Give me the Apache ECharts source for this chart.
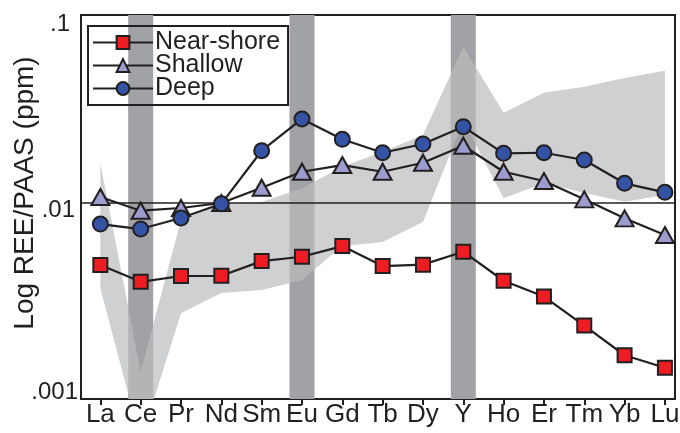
<!DOCTYPE html>
<html>
<head>
<meta charset="utf-8">
<script src="https://cdn.jsdelivr.net/npm/echarts@6/dist/echarts.min.js"></script>
<style>html,body{margin:0;padding:0;background:#fff}#c{width:680px;height:433px}</style>
</head>
<body>
<div id="c"></div>
<script>
const categories = ['La','Ce','Pr','Nd','Sm','Eu','Gd','Tb','Dy','Y','Ho','Er','Tm','Yb','Lu'];
const nearShore = [0.00468,0.00381,0.00409,0.00410,0.00491,0.00518,0.00590,0.00462,0.00470,0.00551,0.00386,0.00318,0.00223,0.00155,0.00133];
const shallow   = [0.01076,0.00910,0.00941,0.01000,0.01206,0.01467,0.01592,0.01467,0.01638,0.02017,0.01467,0.01309,0.01046,0.00829,0.00676];
const deep      = [0.00773,0.00727,0.00832,0.00990,0.01897,0.02799,0.02182,0.01851,0.02059,0.02546,0.01838,0.01851,0.01694,0.01273,0.01140];
const bandUpper = [0.01627,0.001267,0.00812,0.00988,0.01012,0.01197,0.01560,0.01874,0.02299,0.06783,0.03022,0.03861,0.04155,0.04623,0.05055];
const bandLower = [0.00352,0.000542,0.00259,0.00332,0.00345,0.00390,0.00590,0.00620,0.00793,0.02730,0.01059,0.01278,0.01130,0.01016,0.01103];
const anomalies = ['Ce','Eu','Y'];
const yTickValues = [0.001, 0.01, 0.1];
const yTickLabels = ['.001', '.01', '.1'];
const refLevel = 0.01;

const INK = '#231f20';
const FONT = 'Liberation Sans, Arial, Helvetica, sans-serif';
const pairs = arr => arr.map((v, i) => [i, v]);

const chart = echarts.init(document.getElementById('c'), null, {renderer: 'canvas'});
chart.setOption({
  animation: false,
  backgroundColor: '#fff',
  textStyle: {fontFamily: FONT},
  grid: {left: 81, right: 5, top: 15, bottom: 34, show: true, borderColor: INK, borderWidth: 2,
    backgroundColor: 'transparent', containLabel: false, outerBoundsMode: 'none'},
  legend: {
    orient: 'vertical', left: 88, top: 26,
    borderColor: INK, borderWidth: 2, padding: [4, 8, 4, 4],
    itemWidth: 60, itemHeight: 16, itemGap: -2,
    data: ['Near-shore', 'Shallow', 'Deep'],
    textStyle: {fontSize: 25, color: INK, fontFamily: FONT, padding: [0, 0, 0, -3]}
  },
  xAxis: {
    type: 'value', min: -0.48, max: 14.25,
    axisLine: {show: false},
    splitLine: {show: false},
    axisTick: {show: true, inside: false, length: 6, lineStyle: {color: INK, width: 2}, customValues: categories.map((c, i) => i)},
    axisLabel: {show: true, margin: 3, fontSize: 26, color: INK, fontFamily: FONT,
      customValues: categories.map((c, i) => i),
      formatter: v => categories[Math.round(v)] || ''}
  },
  yAxis: {
    type: 'log', min: 0.000907, max: 0.1,
    axisLine: {show: false}, axisTick: {show: false}, splitLine: {show: false},
    axisLabel: {show: true, margin: 3, fontSize: 24, color: INK, fontFamily: FONT,
      customValues: yTickValues,
      formatter: v => {
        const k = yTickValues.findIndex(t => Math.abs(Math.log10(t) - Math.log10(v)) < 0.01);
        return k >= 0 ? '{t' + k + '|' + yTickLabels[k] + '}' : '';
      },
      rich: {
        t0: {fontSize: 24, color: INK, fontFamily: FONT, padding: [2, 0, 0, 0]},
        t1: {fontSize: 24, color: INK, fontFamily: FONT, padding: [15, 3, 0, 0]},
        t2: {fontSize: 24, color: INK, fontFamily: FONT, padding: [18, 8, 0, 0]}
      }},
    name: 'Log REE/PAAS (ppm)', nameLocation: 'middle', nameRotate: 90, nameGap: 42,
    nameMoveOverlap: false,
    nameTextStyle: {fontSize: 28, color: INK, fontFamily: FONT, padding: [0, 0, 0, 28]}
  },
  series: [
    {
      type: 'custom', name: 'anomaly', z: 1, clip: true, silent: true,
      data: anomalies.map(a => [categories.indexOf(a)]),
      encode: {x: 0},
      renderItem: (params, api) => {
        const cs = params.coordSys;
        const x = api.coord([api.value(0), refLevel])[0];
        const w = 25;
        return {type: 'rect', shape: {x: x - w / 2, y: cs.y, width: w, height: cs.height}, style: {fill: '#a0a2a5'}};
      }
    },
    {
      type: 'custom', name: 'range', z: 2, clip: true, silent: true,
      data: [[0]],
      renderItem: (params, api) => {
        const pts = [];
        for (let i = 0; i < categories.length; i++) pts.push(api.coord([i, bandUpper[i]]));
        for (let i = categories.length - 1; i >= 0; i--) pts.push(api.coord([i, bandLower[i]]));
        const cs = params.coordSys;
        return {type: 'polygon', shape: {points: pts}, style: {fill: 'rgba(187,188,190,0.7)'},
          clipPath: {type: 'rect', shape: {x: cs.x, y: cs.y, width: cs.width, height: cs.height}}};
      }
    },
    {
      name: 'Near-shore', type: 'line', z: 5, data: pairs(nearShore),
      symbol: 'rect', symbolSize: 14,
      lineStyle: {color: INK, width: 2.2},
      itemStyle: {color: '#ee1d23', borderColor: INK, borderWidth: 2},
      markLine: {silent: true, symbol: 'none', label: {show: false},
        lineStyle: {color: INK, width: 1.5, type: 'solid'}, data: [{yAxis: refLevel}]}
    },
    {
      name: 'Shallow', type: 'line', z: 6, data: pairs(shallow),
      symbol: 'triangle', symbolSize: [18, 16],
      lineStyle: {color: INK, width: 2.2},
      itemStyle: {color: '#9c9ccf', borderColor: INK, borderWidth: 2}
    },
    {
      name: 'Deep', type: 'line', z: 7, data: pairs(deep),
      symbol: 'circle', symbolSize: 15,
      lineStyle: {color: INK, width: 2.2},
      itemStyle: {color: '#3553a4', borderColor: INK, borderWidth: 2}
    }
  ]
});
</script>
</body>
</html>
